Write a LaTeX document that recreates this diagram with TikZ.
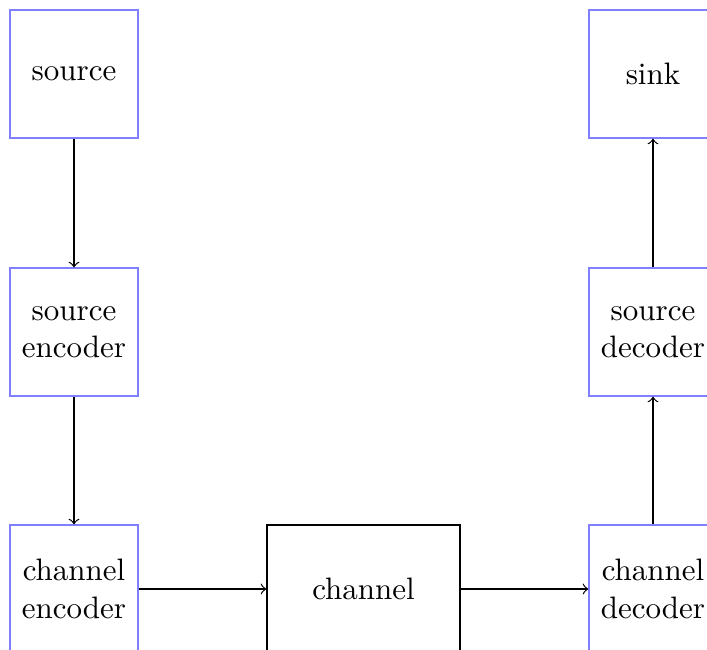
\documentclass[tikz,border=0pt]{standalone}
\begin{document}
\begin{tikzpicture}[x=0.3226pt,y=-0.3226pt,
  blockbox/.style={draw=blue!50,align=center,minimum width=41.29pt,minimum height=41.29pt,inner sep=0pt},
  chanbox/.style={draw=black,align=center,minimum width=62.26pt,minimum height=41.29pt,inner sep=0pt},
  conn/.style={->}]
\useasboundingbox (0,0) rectangle (707,650);
\clip (0,0) rectangle (707,650);
\node[blockbox] (src) at (74,74) {source};
\node[blockbox] (senc) at (74,332) {source\\encoder};
\node[blockbox] (cenc) at (74,589) {channel\\encoder};
\node[chanbox] (chan) at (363.5,589) {channel};
\node[blockbox] (cdec) at (653,589) {channel\\decoder};
\node[blockbox] (sdec) at (653,332) {source\\decoder};
\node[blockbox] (sink) at (653,74) {sink};
\draw[conn] (src) -- (senc);
\draw[conn] (senc) -- (cenc);
\draw[conn] (cenc) -- (chan);
\draw[conn] (chan) -- (cdec);
\draw[conn] (cdec) -- (sdec);
\draw[conn] (sdec) -- (sink);
\end{tikzpicture}
\end{document}
